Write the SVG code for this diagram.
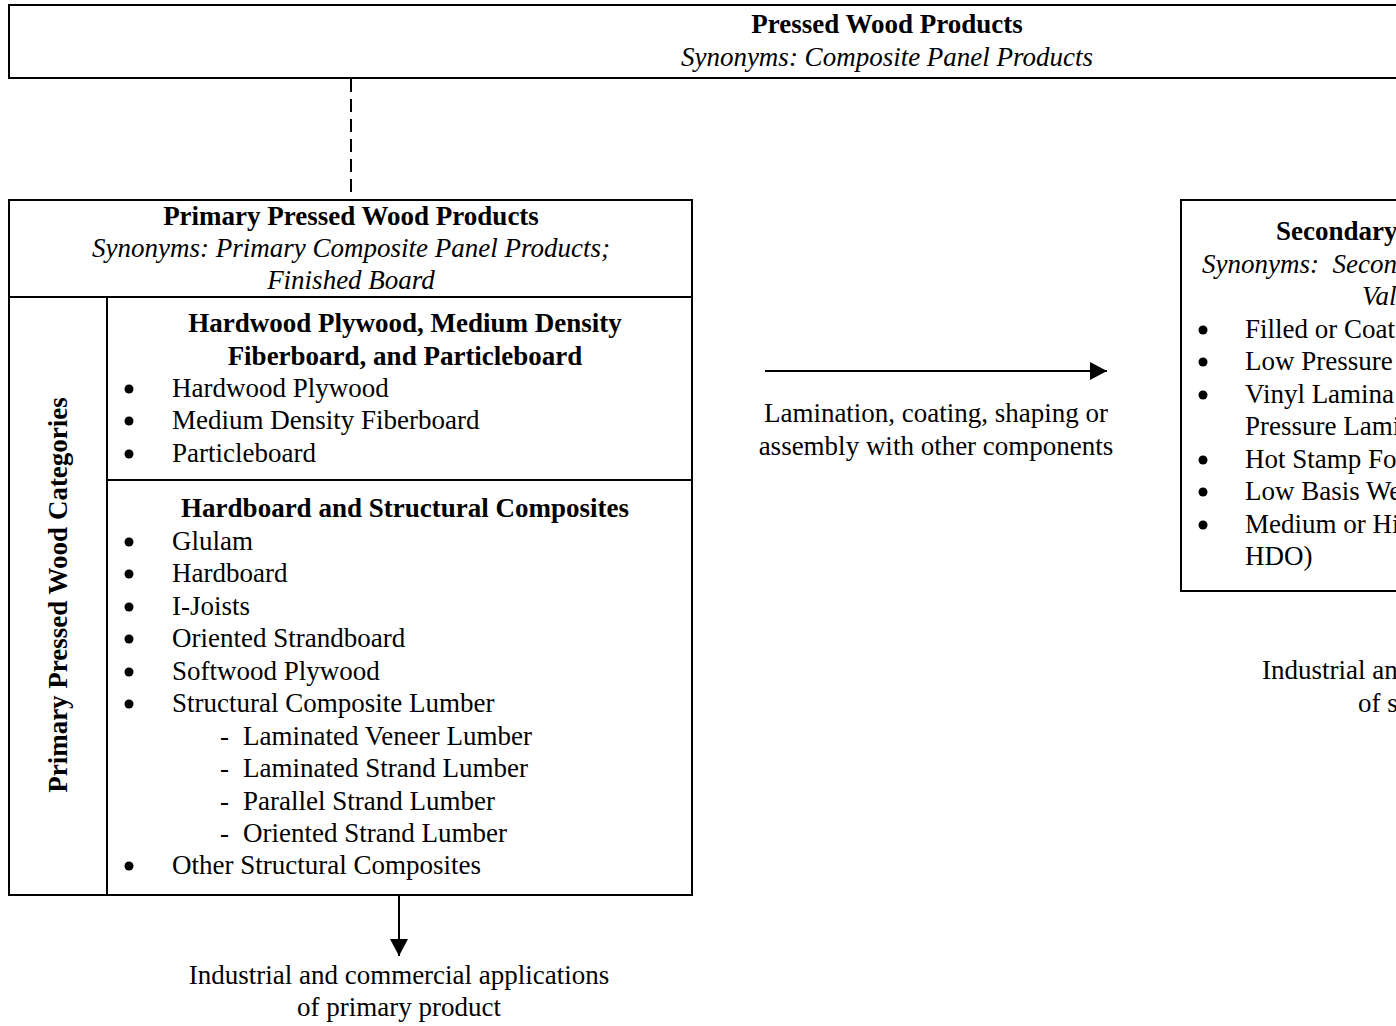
<svg xmlns="http://www.w3.org/2000/svg" width="1396" height="1026" viewBox="0 0 1396 1026">
<style>
  .box{fill:#fff;stroke:#000;stroke-width:2}
  .ln{stroke:#000;stroke-width:2;fill:none}
  .dot{fill:#000}
  text{font-family:"Liberation Serif","Times New Roman",serif;font-size:27px;fill:#000}
  .b{font-weight:bold}
  .i{font-style:italic}
  .c{text-anchor:middle}
</style>
<defs>
  <marker id="ah" markerWidth="18" markerHeight="18" refX="17" refY="9" orient="auto" markerUnits="userSpaceOnUse">
    <path d="M0,0 L17,9 L0,18 Z" fill="#000"/>
  </marker>
</defs>
<rect width="1396" height="1026" fill="#fff"/>

<g id="top-node">
  <rect class="box" x="9" y="5" width="1400" height="73"/>
  <text class="b c" x="887" y="33">Pressed Wood Products</text>
  <text class="i c" x="887" y="66">Synonyms: Composite Panel Products</text>
</g>

<g id="primary-node">
  <rect class="box" x="9" y="200" width="683" height="695"/>
  <line class="ln" x1="9" y1="297" x2="692" y2="297"/>
  <line class="ln" x1="107" y1="297" x2="107" y2="895"/>
  <line class="ln" x1="107" y1="480" x2="692" y2="480"/>
  <text class="b c" x="351" y="225">Primary Pressed Wood Products</text>
  <text class="i c" x="351" y="257">Synonyms: Primary Composite Panel Products;</text>
  <text class="i c" x="351" y="289">Finished Board</text>
  <text class="b c" transform="translate(67,595) rotate(-90)">Primary Pressed Wood Categories</text>
</g>

<g id="hardwood-node">
  <text class="b c" x="405" y="332">Hardwood Plywood, Medium Density</text>
  <text class="b c" x="405" y="365">Fiberboard, and Particleboard</text>
  <circle class="dot" cx="129" cy="389" r="4.5"/><text x="172" y="397">Hardwood Plywood</text>
  <circle class="dot" cx="129" cy="421" r="4.5"/><text x="172" y="429">Medium Density Fiberboard</text>
  <circle class="dot" cx="129" cy="454" r="4.5"/><text x="172" y="462">Particleboard</text>
</g>

<g id="hardboard-node">
  <text class="b c" x="405" y="517">Hardboard and Structural Composites</text>
  <circle class="dot" cx="129" cy="542" r="4.5"/><text x="172" y="550">Glulam</text>
  <circle class="dot" cx="129" cy="574" r="4.5"/><text x="172" y="582">Hardboard</text>
  <circle class="dot" cx="129" cy="607" r="4.5"/><text x="172" y="615">I-Joists</text>
  <circle class="dot" cx="129" cy="639" r="4.5"/><text x="172" y="647">Oriented Strandboard</text>
  <circle class="dot" cx="129" cy="672" r="4.5"/><text x="172" y="680">Softwood Plywood</text>
  <circle class="dot" cx="129" cy="704" r="4.5"/><text x="172" y="712">Structural Composite Lumber</text>
  <text x="220" y="745">-</text><text x="243" y="745">Laminated Veneer Lumber</text>
  <text x="220" y="777">-</text><text x="243" y="777">Laminated Strand Lumber</text>
  <text x="220" y="810">-</text><text x="243" y="810">Parallel Strand Lumber</text>
  <text x="220" y="842">-</text><text x="243" y="842">Oriented Strand Lumber</text>
  <circle class="dot" cx="129" cy="866" r="4.5"/><text x="172" y="874">Other Structural Composites</text>
</g>

<g id="secondary-node">
  <rect class="box" x="1181" y="200" width="240" height="391"/>
  <text class="b" x="1276" y="240">Secondary</text>
  <text class="i" x="1202" y="273" xml:space="preserve">Synonyms:  Secon</text>
  <text class="i" x="1362" y="305">Val</text>
  <circle class="dot" cx="1203" cy="330" r="4.5"/><text x="1245" y="338">Filled or Coat</text>
  <circle class="dot" cx="1203" cy="362" r="4.5"/><text x="1245" y="370">Low Pressure</text>
  <circle class="dot" cx="1203" cy="395" r="4.5"/><text x="1245" y="403">Vinyl Lamina</text>
  <text x="1245" y="435">Pressure Lami</text>
  <circle class="dot" cx="1203" cy="460" r="4.5"/><text x="1245" y="468">Hot Stamp Fo</text>
  <circle class="dot" cx="1203" cy="492" r="4.5"/><text x="1245" y="500">Low Basis We</text>
  <circle class="dot" cx="1203" cy="525" r="4.5"/><text x="1245" y="533">Medium or Hi</text>
  <text x="1245" y="565">HDO)</text>
</g>

<g id="primary-apps">
  <text class="c" x="399" y="984">Industrial and commercial applications</text>
  <text class="c" x="399" y="1016">of primary product</text>
</g>

<g id="secondary-apps">
  <text x="1262" y="679">Industrial an</text>
  <text x="1358" y="712">of s</text>
</g>

<g id="process-label">
  <text class="c" x="936" y="422">Lamination, coating, shaping or</text>
  <text class="c" x="936" y="455">assembly with other components</text>
</g>

<g id="connectors">
  <line class="ln" x1="351" y1="79" x2="351" y2="199" stroke-dasharray="13,7"/>
  <line class="ln" x1="765" y1="371" x2="1107" y2="371" marker-end="url(#ah)"/>
  <line class="ln" x1="399" y1="896" x2="399" y2="956" marker-end="url(#ah)"/>
</g>
</svg>
